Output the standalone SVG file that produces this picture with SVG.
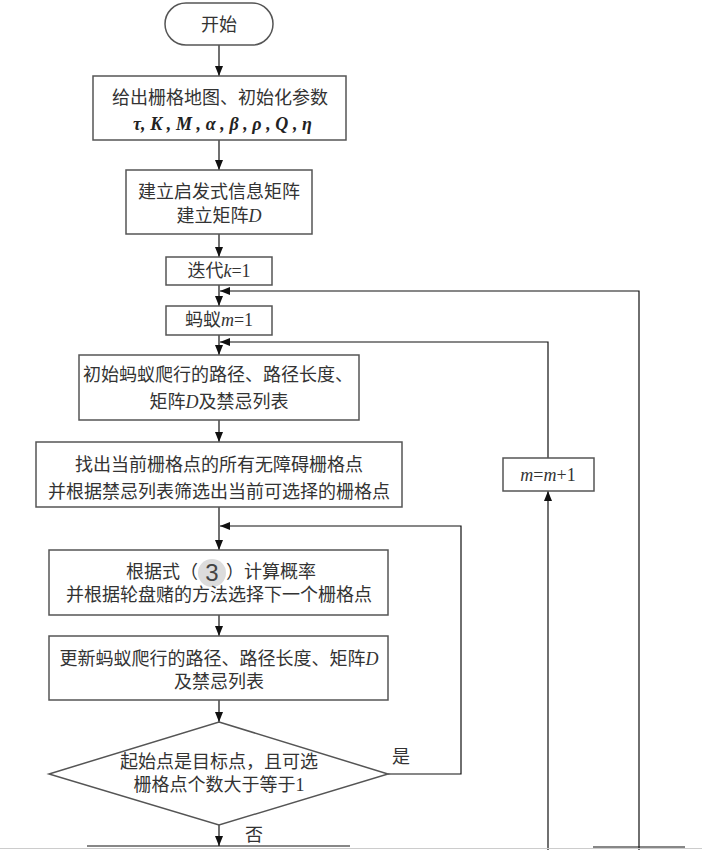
<svg xmlns="http://www.w3.org/2000/svg" width="702" height="850" viewBox="0 0 702 850">
<style>
.box{fill:#fff;stroke:#555;stroke-width:1.5}
.ln{fill:none;stroke:#111;stroke-width:1.2}
.t{font-family:"Liberation Serif","Noto Sans CJK SC",serif;font-size:18px;fill:#333;text-anchor:middle}
.i{font-style:italic}
.pb{font-family:"Liberation Serif",serif;font-size:18px;font-weight:bold;font-style:italic;fill:#222}
</style>
<defs>
<marker id="ah" viewBox="0 0 10 10" refX="10" refY="5" markerWidth="10" markerHeight="10" markerUnits="userSpaceOnUse" orient="auto">
<path d="M0,1 L10,5 L0,9 Z" fill="#111"/>
</marker>
</defs>
<rect width="702" height="850" fill="#fff"/>
<g id="connectors">
<line class="ln" x1="219" y1="45" x2="219" y2="76" marker-end="url(#ah)"/>
<line class="ln" x1="219" y1="140" x2="219" y2="170" marker-end="url(#ah)"/>
<line class="ln" x1="219" y1="234" x2="219" y2="257" marker-end="url(#ah)"/>
<line class="ln" x1="219" y1="285" x2="219" y2="306" marker-end="url(#ah)"/>
<line class="ln" x1="219" y1="335" x2="219" y2="355" marker-end="url(#ah)"/>
<line class="ln" x1="219" y1="420" x2="219" y2="442" marker-end="url(#ah)"/>
<line class="ln" x1="219" y1="507" x2="219" y2="550" marker-end="url(#ah)"/>
<line class="ln" x1="219" y1="615" x2="219" y2="636" marker-end="url(#ah)"/>
<line class="ln" x1="219" y1="700" x2="219" y2="722" marker-end="url(#ah)"/>
<line class="ln" x1="219" y1="825" x2="219" y2="846" marker-end="url(#ah)"/>
<polyline class="ln" points="388,774 461,774 461,526 220,526" marker-end="url(#ah)"/>
<line class="ln" x1="548" y1="850" x2="548" y2="491" marker-end="url(#ah)"/>
<polyline class="ln" points="548,458 548,342 220,342" marker-end="url(#ah)"/>
<polyline class="ln" points="639,850 639,291 220,291" marker-end="url(#ah)"/>
<line class="ln" x1="87" y1="846" x2="350" y2="846" stroke="#444"/>
<line class="ln" x1="593" y1="847" x2="685" y2="847" stroke="#444"/>
<line x1="0" y1="848.5" x2="702" y2="848.5" stroke="#ccc" stroke-width="1"/>
</g>
<g id="start">
<rect class="box" x="165" y="3" width="108" height="42" rx="21" ry="21"/>
<text class="t" x="219" y="31">开始</text>
</g>
<g id="init">
<rect class="box" x="93" y="76" width="253" height="64"/>
<text class="t" x="220" y="104">给出栅格地图、初始化参数</text>
<text class="pb" x="133" y="130" textLength="179" lengthAdjust="spacing">τ, K , M , α , β , ρ , Q , η</text>
</g>
<g id="matrix">
<rect class="box" x="126" y="170" width="186" height="64"/>
<text class="t" x="219" y="198">建立启发式信息矩阵</text>
<text class="t" x="219" y="222">建立矩阵<tspan class="i">D</tspan></text>
</g>
<g id="iter">
<rect class="box" x="166" y="257" width="106" height="28"/>
<text class="t" x="219" y="277">迭代<tspan class="i">k</tspan>=1</text>
</g>
<g id="ant">
<rect class="box" x="166" y="306" width="106" height="29"/>
<text class="t" x="219" y="326">蚂蚁<tspan class="i">m</tspan>=1</text>
</g>
<g id="initpath">
<rect class="box" x="79" y="355" width="280" height="65"/>
<text class="t" x="218" y="381">初始蚂蚁爬行的路径、路径长度、</text>
<text class="t" x="219" y="408">矩阵<tspan class="i">D</tspan>及禁忌列表</text>
</g>
<g id="find">
<rect class="box" x="36" y="442" width="366" height="65"/>
<text class="t" x="219" y="471">找出当前栅格点的所有无障碍栅格点</text>
<text class="t" x="219" y="498">并根据禁忌列表筛选出当前可选择的栅格点</text>
</g>
<g id="prob">
<rect class="box" x="49" y="550" width="339" height="65"/>
<text class="t" x="198" y="578" style="text-anchor:end">根据式（</text>
<ellipse cx="212" cy="573" rx="14" ry="14" fill="#dcdcdc"/>
<text x="212" y="581" style="font-family:'Liberation Sans',sans-serif;font-size:24px;fill:#444;text-anchor:middle">3</text>
<text class="t" x="226" y="578" style="text-anchor:start">）计算概率</text>
<text class="t" x="219" y="601">并根据轮盘赌的方法选择下一个栅格点</text>
</g>
<g id="update">
<rect class="box" x="49" y="636" width="339" height="64"/>
<text class="t" x="219" y="665">更新蚂蚁爬行的路径、路径长度、矩阵<tspan class="i">D</tspan></text>
<text class="t" x="219" y="688">及禁忌列表</text>
</g>
<g id="decision">
<polygon class="box" points="219,722 388,774 219,825 49,774"/>
<text class="t" x="219" y="768">起始点是目标点，且可选</text>
<text class="t" x="219" y="791">栅格点个数大于等于1</text>
<text class="t" x="401" y="763">是</text>
<text class="t" x="254" y="841">否</text>
</g>
<g id="mplus">
<rect class="box" x="503" y="458" width="91" height="33"/>
<text class="t" x="548" y="481"><tspan class="i">m</tspan>=<tspan class="i">m</tspan>+1</text>
</g>
</svg>
